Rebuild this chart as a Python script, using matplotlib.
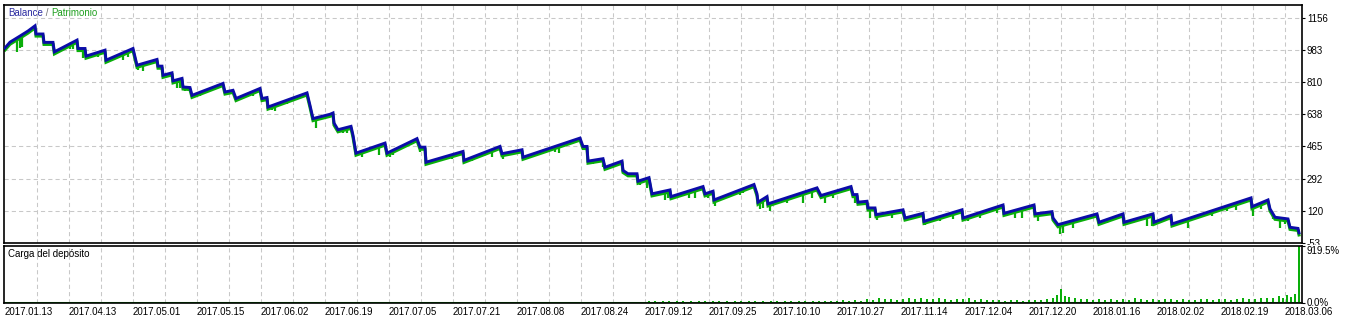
import matplotlib
matplotlib.use('Agg')
import matplotlib.pyplot as plt
import matplotlib.transforms as mtransforms
import numpy as np

# ---------------- data ----------------
date_labels = ["2017.01.13", "2017.04.13", "2017.05.01", "2017.05.15", "2017.06.02",
               "2017.06.19", "2017.07.05", "2017.07.21", "2017.08.08", "2017.08.24",
               "2017.09.12", "2017.09.25", "2017.10.10", "2017.10.27", "2017.11.14",
               "2017.12.04", "2017.12.20", "2018.01.16", "2018.02.02", "2018.02.19",
               "2018.03.06"]
date_pos = [0, 32, 64, 96, 128, 160, 192, 224, 256, 288, 320, 352, 384, 416, 448,
            480, 512, 544, 576, 608, 640]

balance_x = [0, 2.5, 7.5, 11.5, 15, 15.5, 19, 19.5, 24, 24.7, 36, 36.5, 40, 40.5, 50, 50.5,
             64, 66, 76, 76.5, 78.5, 79, 83.5, 84, 88.5, 89, 92.5, 93.5, 109, 110, 114, 115.5,
             127.5, 128.5, 131, 131.5, 151, 152.5, 154, 162.5, 164, 164.5, 166.5, 173, 174,
             175.5, 190, 191, 206, 207.5, 210, 210.5, 229, 229.5, 247.5, 248.5, 258.5, 259,
             287.5, 289, 291, 291.5, 299, 300, 308.5, 309, 311.5, 316, 316.5, 322, 323.5,
             332.5, 333, 349, 350, 354, 354.5, 374.5, 376, 376.5, 381, 381.5, 406, 408,
             423, 424, 426, 426.5, 431, 431.5, 435, 435.5, 449, 450, 459, 459.5, 478.5, 479,
             499, 499.5, 514.5, 515, 523.5, 524, 526.5, 546, 547, 559, 559.5, 574, 574.5,
             583, 583.5, 623, 623.5, 631.5, 632.5, 635, 641.5, 642.5, 646.5, 647]
balance_v = [995, 1026, 1059, 1086, 1114, 1070, 1070, 1025, 1025, 974, 1037, 992, 992, 951, 983, 929,
             992, 902, 933, 897, 897, 848, 861, 818, 831, 785, 782, 740, 804, 758, 767, 723,
             777, 723, 728, 677, 753, 686, 615, 638, 645, 591, 555, 573, 525,
             429, 483, 429, 507, 461, 461, 380, 438, 390, 465, 426, 447, 407,
             510, 465, 465, 386, 399, 353, 386, 336, 318, 318, 278, 297, 210,
             231, 195, 249, 210, 224, 177, 260, 210, 165, 195, 156, 242, 201,
             249, 206, 206, 165, 170, 134, 134, 98, 124, 80, 105, 62, 124, 80,
             150, 105, 150, 102, 114, 80, 44, 102, 57, 102, 57, 102, 57,
             93, 48, 188, 141, 177, 129, 84, 75, 30, 24, 0]

dip_x = [6, 7.5, 8.5, 30, 32.5, 34, 39, 41.5, 46.5, 51, 54, 59, 61.5, 66.5, 69, 80.5, 86, 87.5,
         90, 94, 97.5, 111, 116, 121, 124, 129, 133.5, 135, 141, 146, 153.5, 155.5,
         169, 171, 176.5, 178.5, 187, 192.5, 194, 200, 201.5, 207.5, 211, 216, 223.5, 230,
         233.5, 243.5, 249, 259, 266.5, 275, 277, 281, 291.5, 294, 299, 309, 312.5, 317.5,
         321, 330, 331.5, 335, 342, 345, 351.5, 355, 361.5, 367.5, 369, 377.5, 379, 382.5,
         391, 399, 403.5, 410, 414, 425, 432.5, 436, 443.5, 452.5, 460, 467.5, 474, 481.5,
         487.5, 496, 505, 508.5, 516.5, 527.5, 529, 534, 551, 564, 571, 573.5, 585, 591.5,
         603.5, 611, 615.5, 624, 628, 634, 637.5, 640, 645]
dip_v = [974, 994, 1001, 989, 989, 989, 940, 946, 946, 913, 929, 929, 946, 875, 870, 838, 778, 778,
         765, 730, 735, 751, 708, 730, 735, 713, 659, 654, 692, 719, 633, 562,
         535, 535, 417, 406, 417, 406, 417, 460, 471, 433, 373, 379, 400, 384,
         384, 406, 400, 400, 417, 433, 427, 471, 379, 368, 352, 330, 298, 260,
         244, 179, 185, 185, 185, 190, 185, 147, 185, 201, 212, 131, 136, 120,
         158, 163, 190, 158, 190, 158, 82, 71, 82, 77, 44, 66, 77, 66,
         82, 109, 82, 82, 66, -4, 1, 28, 55, 55, 39, 39, 39, 28,
         93, 120, 125, 93, 131, 77, 28, 50, 17]

load_x = [322, 325, 329, 332, 336, 339, 343, 347, 350, 354, 357, 361, 365, 368, 372, 375,
          379, 383, 386, 390, 393, 397, 400, 404,
          407, 410, 413, 416, 419, 422, 425, 428,
          431, 434, 437, 440, 443, 446, 449, 452, 455, 458, 461, 464, 467, 470, 473, 476,
          479, 482, 485, 488,
          491, 494, 497, 500, 503, 506, 509, 512, 515, 518, 521, 524,
          526, 528, 530, 532,
          535, 538, 541, 544, 547, 550, 553, 556, 559, 562, 565, 568, 571, 574, 577, 580,
          583, 586, 589, 592, 595, 598, 601, 604, 607, 610, 613, 616, 619, 622,
          625, 628, 631, 634, 637, 639, 641, 643, 645, 647]
load_v = [20, 25, 18, 30, 22, 28, 20, 25, 30, 18, 22, 28, 25, 20, 30, 22,
          18, 25, 28, 20, 24, 30, 22, 26,
          28, 22, 30, 25, 35, 28, 40, 32,
          55, 45, 70, 50, 60, 45, 55, 65, 50, 80, 60, 55, 70, 50, 45, 60,
          55, 65, 45, 50,
          40, 35, 45, 30, 40, 35, 30, 45, 35, 40, 50, 80,
          120, 215, 110, 90,
          70, 60, 50, 45, 55, 40, 50, 45, 60, 40, 70, 55, 45, 50, 40, 55,
          60, 45, 50, 40, 45, 55, 50, 45, 60, 50, 45, 55, 65, 50,
          60, 75, 65, 80, 110, 70, 120, 95, 130, 919.5]

bal_ticks = [1156, 983, 810, 638, 465, 292, 120, -53]
load_ticks = [919.5, 0.0]

# ---------------- style ----------------
BLUE = '#0c0ca8'
GREEN = '#0aae0a'
GRID = '#c8c8c8'
FONT = 'Liberation Sans'
FS = 7

W, H = 1346, 320
fig = plt.figure(figsize=(W / 100, H / 100), dpi=100)

def box(l, t, r, b):
    return [l / W, 1 - b / H, (r - l) / W, (b - t) / H]

ax = fig.add_axes(box(4, 5, 1302, 242.7))
ax2 = fig.add_axes(box(4, 245.7, 1302, 302.5))

xmin, xmax = -0.5, 648.5
grid_x = list(range(16, 641, 16))

for a in (ax, ax2):
    a.set_xlim(xmin, xmax)
    for s in a.spines.values():
        s.set_color('black')
        s.set_linewidth(1.2)
    for gx in grid_x:
        a.axvline(gx, color=GRID, lw=0.75, dashes=(4, 3), zorder=0)
    a.yaxis.tick_right()
    a.tick_params(axis='y', direction='out', length=2, width=0.8, pad=1.5,
                  labelsize=FS, colors='black')

# top panel
ax.set_ylim(-53, 1226)
for gy in bal_ticks[:-1]:
    ax.axhline(gy, color=GRID, lw=0.75, dashes=(4, 3), zorder=0)
ax.set_yticks(bal_ticks)
ax.set_yticklabels([str(v) for v in bal_ticks], fontfamily=FONT)
ax.set_xticks([])
# the lowest label is cut by the lower panel, as in the original
low_lbl = ax.get_yticklabels()[-1]
clip = mtransforms.TransformedBbox(
    mtransforms.Bbox([[0.9, 1 - 245.0 / H], [1.0, 1.0]]), fig.transFigure)
low_lbl.set_clip_box(clip)
low_lbl.set_clip_on(True)

off = mtransforms.ScaledTranslation(0, -1.5 / 72, fig.dpi_scale_trans)
ax.plot(balance_x, balance_v, color=GREEN, lw=2.2, transform=ax.transData + off,
        solid_joinstyle='miter', zorder=2)
bal_at_dip = np.interp(dip_x, balance_x, balance_v)
ax.vlines(dip_x, dip_v, bal_at_dip, color=GREEN, lw=1.6, zorder=2)
ax.plot(balance_x, balance_v, color=BLUE, lw=2.1, solid_joinstyle='miter', zorder=3)

t1 = ax.text(0.003, 0.965, 'Balance', transform=ax.transAxes, color='#2a2aa0',
             fontsize=FS, fontfamily=FONT, va='center', ha='left')
t2 = ax.annotate(' / ', xy=(1, 0.5), xycoords=t1, color='#707070',
                 fontsize=FS, fontfamily=FONT, va='center', ha='left')
ax.annotate('Patrimonio', xy=(1, 0.5), xycoords=t2, color='#20a020',
            fontsize=FS, fontfamily=FONT, va='center', ha='left')

# bottom panel
ax2.set_ylim(0, 919.5)
ax2.bar(load_x, load_v, width=1.1, color=GREEN, align='center', zorder=2, linewidth=0)
ax2.axhline(0, color=GREEN, lw=2.2, zorder=2)
ax2.set_yticks(load_ticks)
ax2.set_yticklabels(['919.5%', '0.0%'], fontfamily=FONT)
ax2.get_yticklabels()[0].set_va('top')
ax2.set_xticks(date_pos)
ax2.set_xticklabels(date_labels, fontfamily=FONT, fontsize=FS, ha='left')
ax2.tick_params(axis='x', length=0, pad=3)
ax2.text(0.003, 0.86, 'Carga del depósito', transform=ax2.transAxes, color='black',
         fontsize=FS, fontfamily=FONT, va='center', ha='left')

fig.savefig('out.png', dpi=100)
